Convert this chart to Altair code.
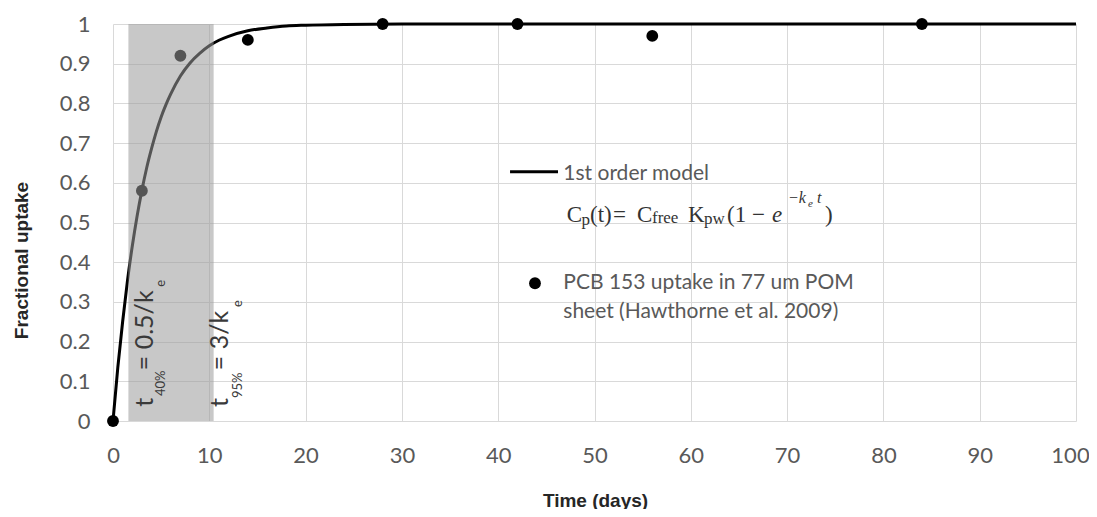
import altair as alt
import pandas as pd

# ---- measured uptake (PCB 153, 77 um POM) ----
days = [0, 3, 7, 14, 28, 42, 56, 84]
uptake = [0.0, 0.58, 0.92, 0.96, 1.0, 1.0, 0.97, 1.0]

# ---- 1st order model curve ----
curve_t = [0, 0.5, 1, 1.5, 2, 2.5, 3, 3.5, 4, 4.5, 5, 5.5, 6, 7, 8, 9, 10, 11, 12,
           14, 16, 18, 20, 24, 30, 100]
curve_y = [0, 0.135, 0.25, 0.353, 0.44, 0.516, 0.581, 0.638, 0.686, 0.729, 0.766, 0.797,
           0.824, 0.869, 0.902, 0.926, 0.945, 0.959, 0.969, 0.983, 0.990, 0.995, 0.997,
           0.999, 1.0, 1.0]

# ---- shaded window t40% .. t95% ----
band_start = [1.6]
band_end = [10.45]

# ---- rotated labels (pieces: main text + subscripts) ----
rot_text = ["t", "40%", "= 0.5/k", "e", "t", "95%", "= 3/k", "e"]
rot_x = [4.15, 5.40, 4.15, 5.40, 11.94, 13.35, 11.94, 13.35]
rot_y = [0.036, 0.063, 0.128, 0.338, 0.035, 0.058, 0.128, 0.287]
rot_size = [25, 13, 25, 13, 25, 13, 25, 13]

# ---- equation pieces ----
eq_text = ["C", "p", "(t)", "=", "C", "free", "K", "pw", "(1", "\u2212", ")"]
eq_x = [47.11, 48.64, 49.54, 51.92, 54.41, 55.97, 59.71, 61.37, 63.76, 66.35, 73.94]
eq_y = [0.502, 0.494, 0.502, 0.502, 0.502, 0.498, 0.502, 0.496, 0.502, 0.502, 0.502]
eq_size = [23, 17, 23, 23, 23, 17, 23, 17, 23, 23, 23]

eqi_text = ["e", "\u2212k", "e", "t"]
eqi_x = [68.43, 70.09, 72.17, 73.10]
eqi_y = [0.502, 0.549, 0.539, 0.549]
eqi_size = [23, 16, 11, 16]

# ---- legend ----
leg_line_x = [41.23]
leg_line_x2 = [46.21]
leg_line_y = [0.628]
leg_dot_x = [43.82]
leg_dot_y = [0.347]
leg_text = ["1st order model", "PCB 153 uptake in 77 um POM", "sheet (Hawthorne et al. 2009)"]
leg_text_x = [46.76, 46.76, 46.76]
leg_text_y = [0.607, 0.3325, 0.2587]

x_ticks = list(range(0, 101, 10))
y_ticks = [0, 0.1, 0.2, 0.3, 0.4, 0.5, 0.6, 0.7, 0.8, 0.9, 1.0]

xs = alt.Scale(domain=[0, 100], nice=False, zero=False)
ys = alt.Scale(domain=[0, 1], nice=False, zero=False)

xaxis = alt.Axis(values=x_ticks, title="Time (days)", labelPadding=24, labelBaseline="top",
                 labelFlush=False,
                 labelOffset={"condition": {"test": "datum.value == 100", "value": -6}, "value": 0},
                 titleX=482, titleY=85, titleBaseline="alphabetic", titleAlign="center")
yaxis = alt.Axis(values=y_ticks, format=".1~f", title="Fractional uptake", labelPadding=23,
                 labelFlush=False,
                 titleX=-86, titleY=236, titleAngle=270, titleBaseline="alphabetic",
                 titleAlign="center")

X = alt.X("x:Q", scale=xs, axis=xaxis)
Y = alt.Y("y:Q", scale=ys, axis=yaxis)

curve_df = pd.DataFrame({"x": curve_t, "y": curve_y})
pts_df = pd.DataFrame({"x": days, "y": uptake})
band_df = pd.DataFrame({"x": band_start, "x2": band_end, "y": [0.0], "y2": [1.0]})
rot_df = pd.DataFrame({"x": rot_x, "y": rot_y, "t": rot_text, "fs": rot_size})
eq_df = pd.DataFrame({"x": eq_x, "y": eq_y, "t": eq_text, "fs": eq_size})
eqi_df = pd.DataFrame({"x": eqi_x, "y": eqi_y, "t": eqi_text, "fs": eqi_size})
legl_df = pd.DataFrame({"x": leg_line_x, "x2": leg_line_x2, "y": leg_line_y})
legd_df = pd.DataFrame({"x": leg_dot_x, "y": leg_dot_y})
legt_df = pd.DataFrame({"x": leg_text_x, "y": leg_text_y, "t": leg_text})

line = alt.Chart(curve_df).mark_line(color="black", strokeWidth=3, interpolate="monotone").encode(x=X, y=Y)
pts = alt.Chart(pts_df).mark_circle(color="black", opacity=1, size=140).encode(x=X, y=Y)
band = alt.Chart(band_df).mark_rect(color="#9b9b9b", opacity=0.55).encode(
    x=X, x2="x2:Q", y=Y, y2="y2:Q")
rot = alt.Chart(rot_df).mark_text(angle=270, align="left", baseline="alphabetic",
                                  font="Lato", color="#3a3a3a").encode(
    x=X, y=Y, text="t:N", size=alt.Size("fs:Q", scale=None))
eq = alt.Chart(eq_df).mark_text(align="left", baseline="alphabetic",
                                font="Liberation Serif", color="#333333").encode(
    x=X, y=Y, text="t:N", size=alt.Size("fs:Q", scale=None))
eqi = alt.Chart(eqi_df).mark_text(align="left", baseline="alphabetic", fontStyle="italic",
                                  font="Liberation Serif", color="#333333").encode(
    x=X, y=Y, text="t:N", size=alt.Size("fs:Q", scale=None))
legl = alt.Chart(legl_df).mark_rule(color="black", strokeWidth=3).encode(x=X, x2="x2:Q", y=Y)
legd = alt.Chart(legd_df).mark_circle(color="black", opacity=1, size=140).encode(x=X, y=Y)
legt = alt.Chart(legt_df).mark_text(align="left", baseline="alphabetic", font="Lato",
                                    fontSize=21, color="#595959").encode(x=X, y=Y, text="t:N")

chart = alt.layer(line, pts, band, rot, eq, eqi, legl, legd, legt).properties(
    width=963, height=397,
    autosize=alt.AutoSizeParams(type="none"),
    padding={"left": 105, "top": 16, "right": 13, "bottom": 88},
).configure_view(stroke=None).configure_axis(
    grid=True, gridColor="#d9d9d9", gridWidth=1, domain=False, ticks=False, tickSize=0,
    labelFont="Lato", labelFontSize=22, labelColor="#595959",
    titleFont="Liberation Sans", titleFontSize=19, titleFontWeight="bold", titleColor="#262626",
)

chart.save("out.html", embed_options={"renderer": "svg", "actions": False})
